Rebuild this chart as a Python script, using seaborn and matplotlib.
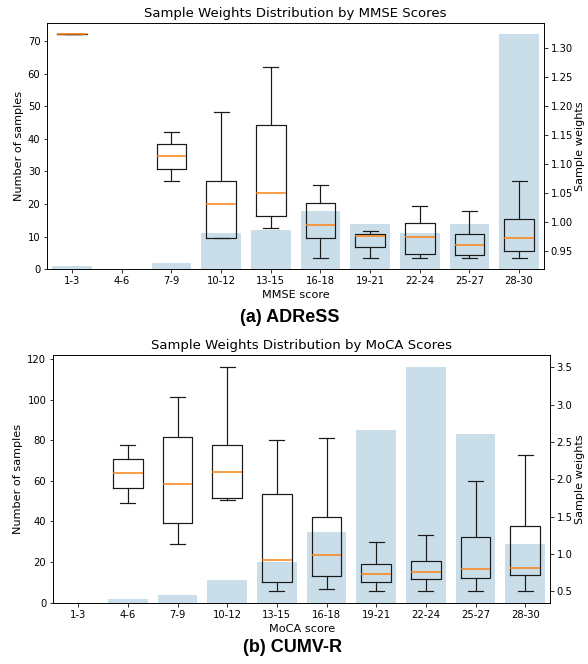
import numpy as np
import pandas as pd
import matplotlib
matplotlib.use("Agg")
import matplotlib.pyplot as plt
import seaborn as sns

# ── data ─────────────────────────────────────────────────
score_bins = ["1-3", "4-6", "7-9", "10-12", "13-15", "16-18",
              "19-21", "22-24", "25-27", "28-30"]

# ADReSS (MMSE)
adress_counts = [1, 0, 2, 11, 12, 18, 14, 11, 14, 72]
# five-number summaries per bin: whisker low, Q1, median, Q3, whisker high
adress_lo  = [1.325, None, 1.070, 0.971, 0.989, 0.937, 0.937, 0.938, 0.937, 0.937]
adress_q1  = [1.325, None, 1.092, 0.972, 1.010, 0.972, 0.956, 0.944, 0.942, 0.950]
adress_med = [1.325, None, 1.114, 1.031, 1.050, 0.995, 0.975, 0.974, 0.960, 0.972]
adress_q3  = [1.325, None, 1.134, 1.071, 1.168, 1.032, 0.979, 0.998, 0.978, 1.005]
adress_hi  = [1.325, None, 1.156, 1.190, 1.268, 1.063, 0.984, 1.028, 1.018, 1.070]

# CUMV-R (MoCA)
cumv_counts = [0, 2, 4, 11, 20, 35, 85, 116, 83, 29]
cumv_lo  = [None, 1.69, 1.14, 1.72, 0.500, 0.53, 0.50, 0.50, 0.50, 0.50]
cumv_q1  = [None, 1.88, 1.41, 1.75, 0.620, 0.705, 0.63, 0.66, 0.68, 0.72]
cumv_med = [None, 2.08, 1.94, 2.10, 0.915, 0.99, 0.73, 0.755, 0.795, 0.81]
cumv_q3  = [None, 2.27, 2.57, 2.46, 1.81, 1.49, 0.87, 0.91, 1.23, 1.38]
cumv_hi  = [None, 2.46, 3.10, 3.51, 2.53, 2.55, 1.16, 1.25, 1.98, 2.33]

TICK_FS, LABEL_FS, TITLE_FS = 10, 11.2, 13.3


def box_stats(lo, q1, med, q3, hi):
    stats, pos = [], []
    for i, vals in enumerate(zip(lo, q1, med, q3, hi)):
        if vals[0] is None:
            continue
        stats.append(dict(whislo=vals[0], q1=vals[1], med=vals[2],
                          q3=vals[3], whishi=vals[4], fliers=[]))
        pos.append(i)
    return stats, pos


def draw_panel(ax, counts, summary, score_name):
    cdf = pd.DataFrame({"bin": score_bins, "count": counts})
    sns.barplot(data=cdf, x="bin", y="count", order=score_bins, color="#cadeea",
                saturation=1, linewidth=0, width=0.8, ax=ax)
    ax2 = ax.twinx()
    stats, pos = box_stats(*summary)
    lp = dict(color="#1a1a1a", linewidth=1.2)
    ax2.bxp(stats, positions=pos, widths=0.6, showfliers=False, manage_ticks=False,
            boxprops=lp, whiskerprops=lp, capprops=lp,
            medianprops=dict(color="#ff7f0e", linewidth=1.5))
    ax.set_xlim(-0.5, len(score_bins) - 0.5)
    ax.set_title(f"Sample Weights Distribution by {score_name} Scores", fontsize=TITLE_FS)
    ax.set_xlabel(f"{score_name} score", fontsize=LABEL_FS)
    ax.set_ylabel("Number of samples", fontsize=LABEL_FS)
    ax2.set_ylabel("Sample weights", fontsize=LABEL_FS, labelpad=2)
    ax.tick_params(labelsize=TICK_FS)
    ax2.tick_params(labelsize=TICK_FS, pad=3)
    return ax2


fig = plt.figure(figsize=(588 / 72, 664 / 72), dpi=72)

ax_top = fig.add_axes([0.0805, 0.5944, 0.8445, 0.3714])
draw_panel(ax_top, adress_counts,
           (adress_lo, adress_q1, adress_med, adress_q3, adress_hi), "MMSE")

ax_bot = fig.add_axes([0.0907, 0.0924, 0.8447, 0.3725])
draw_panel(ax_bot, cumv_counts,
           (cumv_lo, cumv_q1, cumv_med, cumv_q3, cumv_hi), "MoCA")

fig.text(0.493, 1 - 318 / 664, "(a) ADReSS", ha="center", va="center",
         fontsize=18, fontweight="bold", family="Liberation Sans")
fig.text(0.497, 1 - 647 / 664, "(b) CUMV-R", ha="center", va="center",
         fontsize=18, fontweight="bold", family="Liberation Sans")

plt.savefig("out.png", dpi=72)
plt.close()
